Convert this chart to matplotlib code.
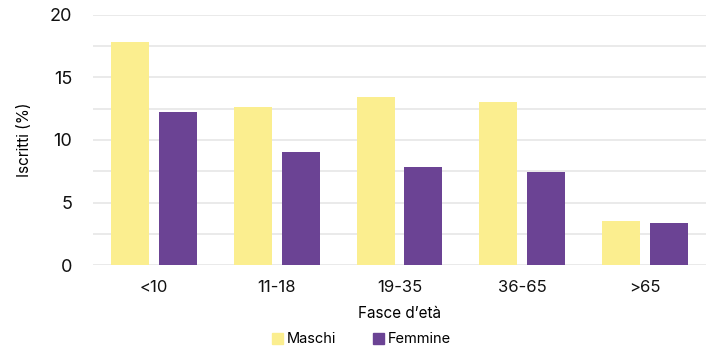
import matplotlib.pyplot as plt
import numpy as np
from matplotlib.patches import Patch

plt.rcParams['font.family'] = ['Inter', 'DejaVu Sans']

fasce = ['<10', '11-18', '19-35', '36-65', '>65']
maschi = [17.8, 12.6, 13.4, 13.0, 3.5]
femmine = [12.2, 9.0, 7.8, 7.4, 3.4]

col_m = '#FBEE8F'
col_f = '#6B4394'

fig = plt.figure(figsize=(7.06, 3.47), dpi=100)
ax = fig.add_axes([0.1317, 0.2363, 0.8683, 0.7205])

x = np.arange(len(fasce))
w = 0.31
ax.bar(x - 0.195, maschi, w, color=col_m, zorder=3)
ax.bar(x + 0.195, femmine, w, color=col_f, zorder=3)

ax.set_xlim(-0.5, len(fasce) - 0.5)
ax.set_ylim(0, 20)
ax.set_yticks([0, 5, 10, 15, 20])
ax.set_yticks(np.arange(0, 20.1, 2.5), minor=True)
ax.grid(axis='y', which='both', color='#E6E6E6', linewidth=1.2, zorder=0)
ax.set_xticks(x)
ax.set_xticklabels(fasce)
for s in ax.spines.values():
    s.set_visible(False)
ax.tick_params(axis='both', which='both', length=0)
ax.tick_params(axis='y', pad=15, labelsize=13, colors='#111111')
ax.tick_params(axis='x', pad=11, labelsize=12, colors='#111111')

ax.set_ylabel('Iscritti (%)', fontsize=11, labelpad=13)
ax.set_xlabel('Fasce d\u2019età', fontsize=11, labelpad=8)

handles = [Patch(color=col_m, label='Maschi'), Patch(color=col_f, label='Femmine')]
fig.legend(handles=handles, loc='center', bbox_to_anchor=(0.512, 0.022), ncol=2,
           frameon=False, fontsize=10.5, handlelength=0.75, handleheight=0.75,
           handletextpad=0.3, columnspacing=2.5)

fig.savefig('out.png', dpi=100)
